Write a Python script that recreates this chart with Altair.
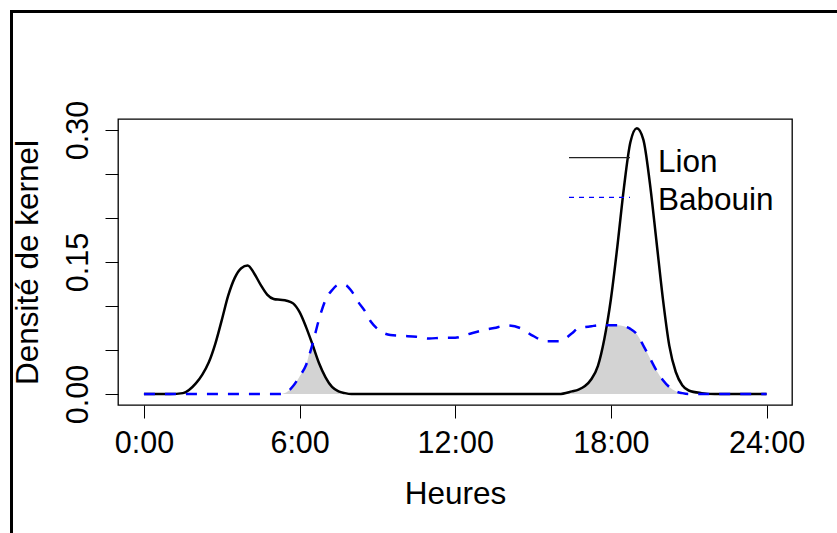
import altair as alt
import pandas as pd
import numpy as np

# ---------------- data ----------------
hours = [0, 0.5, 1, 1.5, 2, 2.25, 2.5, 2.75, 3, 3.25, 3.5, 3.75, 4, 4.25, 4.5,
         4.75, 5, 5.25, 5.5, 5.75, 6, 6.25, 6.5, 6.75, 7, 7.25, 7.5, 7.75, 8,
         8.25, 8.5, 8.75, 9, 9.5, 10, 10.5, 11, 11.5, 12, 12.5, 13, 13.5, 14,
         14.5, 15, 15.5, 16, 16.5, 16.75, 17, 17.25, 17.5, 17.75, 18, 18.25,
         18.5, 18.75, 19, 19.25, 19.5, 19.75, 20, 20.25, 20.5, 20.75, 21, 21.5,
         22, 23, 24]

lion = [0, 0, 0, 0.001, 0.012, 0.022, 0.036, 0.057, 0.084, 0.112, 0.132, 0.143,
        0.146, 0.137, 0.124, 0.113, 0.108, 0.107, 0.106, 0.103, 0.093, 0.076,
        0.056, 0.035, 0.019, 0.008, 0.003, 0.001, 0,
        0, 0, 0, 0, 0, 0, 0, 0, 0, 0, 0, 0, 0, 0,
        0, 0, 0, 0, 0.003, 0.005, 0.009, 0.017, 0.032, 0.063, 0.108, 0.168,
        0.234, 0.286, 0.302, 0.289, 0.240, 0.175, 0.109, 0.055, 0.025, 0.010,
        0.004, 0.001, 0, 0, 0]

baboon = [0, 0, 0, 0, 0, 0, 0, 0, 0, 0, 0, 0, 0, 0, 0,
          0, 0, 0, 0.002, 0.009, 0.020, 0.033, 0.057, 0.085, 0.107, 0.118,
          0.124, 0.124, 0.117,
          0.105, 0.095, 0.082, 0.074, 0.067, 0.066, 0.065, 0.063, 0.064, 0.064,
          0.068, 0.072, 0.075, 0.078,
          0.075, 0.066, 0.060, 0.060, 0.069, 0.075, 0.076, 0.077, 0.078, 0.078,
          0.078, 0.078,
          0.077, 0.074, 0.068, 0.055, 0.041, 0.027, 0.016, 0.008, 0.003, 0.001,
          0, 0, 0, 0, 0]

species = ["Lion", "Babouin"]
tick_hours = [0, 6, 12, 18, 24]
tick_labels = ["0:00", "6:00", "12:00", "18:00", "24:00"]
y_ticks = [0.0, 0.05, 0.10, 0.15, 0.20, 0.25, 0.30]
y_labeled = [0.0, 0.15, 0.30]

# ---------------- tables ----------------
df = pd.DataFrame({"h": hours, "Lion": lion, "Babouin": baboon})
df["overlap"] = np.minimum(df["Lion"], df["Babouin"])

FONT = "Liberation Sans"

x_label_expr = " : ".join(
    [f"datum.value == {h} ? '{l}'" for h, l in zip(tick_hours, tick_labels)]
) + " : ''"
y_label_expr = (
    "indexof([" + ",".join(str(v) for v in y_labeled) + "], datum.value) >= 0"
    " ? format(datum.value, '.2f') : ''"
)

x_scale = alt.Scale(domain=[-1.0, 24.98], nice=False, zero=False)
y_scale = alt.Scale(domain=[-0.0125, 0.3125], nice=False, zero=False)

x_axis = alt.Axis(
    values=tick_hours, labelExpr=x_label_expr, title="Heures",
    domain=False, grid=False, ticks=True, tickSize=13, tickColor="black",
    tickWidth=1, labelFont=FONT, labelFontSize=30.5, labelColor="black",
    labelAlign="center", labelBaseline="alphabetic", labelPadding=34,
    labelFlush=False, labelOverlap=False,
    titleFont=FONT, titleFontSize=31.5, titleFontWeight="normal",
    titleColor="black", titleAlign="center", titleBaseline="alphabetic",
    titleX=337, titleY=98,
)
y_axis = alt.Axis(
    values=y_ticks, labelExpr=y_label_expr, title="Densité de kernel",
    domain=False, grid=False, ticks=True, tickSize=13, tickColor="black",
    tickWidth=1, labelFont=FONT, labelFontSize=30.5, labelColor="black",
    labelAngle=270, labelAlign="center", labelBaseline="alphabetic",
    labelPadding=18, labelFlush=False, labelOverlap=False,
    titleFont=FONT, titleFontSize=31.5, titleFontWeight="normal",
    titleColor="black", titleAngle=270, titleAlign="center",
    titleBaseline="alphabetic", titleX=-81, titleY=143,
)

base = alt.Chart(df)

area = base.mark_area(color="#D3D3D3", interpolate="monotone").encode(
    x=alt.X("h:Q", scale=x_scale, axis=x_axis),
    y=alt.Y("overlap:Q", scale=y_scale, axis=y_axis),
    y2=alt.datum(0),
)

lion_line = base.mark_line(color="black", strokeWidth=2.5,
                           interpolate="monotone").encode(
    x=alt.X("h:Q", scale=x_scale),
    y=alt.Y("Lion:Q", scale=y_scale),
)

baboon_line = base.mark_line(color="#0000FF", strokeWidth=2.5,
                             strokeDash=[11, 10],
                             interpolate="monotone").encode(
    x=alt.X("h:Q", scale=x_scale),
    y=alt.Y("Babouin:Q", scale=y_scale),
)

# ---------------- manual legend ----------------
one = pd.DataFrame({"a": [0]})
leg_lion_line = alt.Chart(one).mark_rule(color="#222222", strokeWidth=1.3).encode(
    x=alt.value(451), x2=alt.value(512), y=alt.value(38.7))
leg_bab_line = alt.Chart(one).mark_rule(color="#0000FF", strokeWidth=1.3,
                                        strokeDash=[5, 5]).encode(
    x=alt.value(451), x2=alt.value(512), y=alt.value(78.3))
leg_lion_txt = alt.Chart(pd.DataFrame({"sp": [species[0]]})).mark_text(
    align="left", baseline="alphabetic", font=FONT, fontSize=31.5,
    color="black").encode(text="sp:N", x=alt.value(540), y=alt.value(52.7))
leg_bab_txt = alt.Chart(pd.DataFrame({"sp": [species[1]]})).mark_text(
    align="left", baseline="alphabetic", font=FONT, fontSize=31.5,
    color="black").encode(text="sp:N", x=alt.value(540), y=alt.value(91))

# ---------------- outer frame (top & left border of figure) ----------------
frame_left = alt.Chart(one).mark_rule(color="black", strokeWidth=3).encode(
    x=alt.value(-106.5), y=alt.value(-109), y2=alt.value(430))
frame_top = alt.Chart(one).mark_rule(color="black", strokeWidth=3).encode(
    x=alt.value(-108), x2=alt.value(740), y=alt.value(-107.5))

chart = alt.layer(
    area, lion_line, baboon_line,
    leg_lion_line, leg_bab_line, leg_lion_txt, leg_bab_txt,
    frame_left, frame_top,
).properties(
    width=674, height=286,
    background="white",
    padding={"left": 118, "top": 119, "right": 45, "bottom": 128},
    autosize=alt.AutoSizeParams(type="none"),
).configure_view(
    stroke="black", strokeWidth=1.3
)

chart.save("out.html", embed_options={"renderer": "svg", "actions": False})
